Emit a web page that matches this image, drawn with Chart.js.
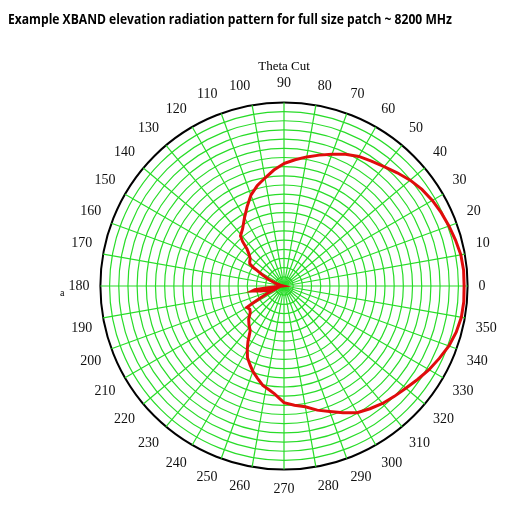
<!DOCTYPE html>
<html>
<head>
<meta charset="utf-8">
<script src="https://cdn.jsdelivr.net/npm/chart.js@4.4.1/dist/chart.umd.min.js"></script>
<style>
  html, body { margin: 0; padding: 0; background: #fff; }
  #wrap { width: 530px; height: 508px; }
</style>
</head>
<body>
<div id="wrap"><canvas id="polar" width="530" height="508"></canvas></div>
<script>
const pageTitle = 'Example XBAND elevation radiation pattern for full size patch ~ 8200 MHz';
const plotTitle = 'Theta Cut';
const axisLetter = 'a';

// angle in degrees (0 = right, counter-clockwise) and normalised gain
const thetaDeg = [
  0, 5, 10, 15, 20, 25, 30, 35, 40, 45, 50, 55, 60, 65, 70, 75, 80, 85,
  90, 95, 100, 105, 110, 115, 120, 126, 131, 133, 135, 138, 141, 145, 147, 149,
  150, 153, 157, 162, 168, 175,
  184, 186, 187, 189, 192, 196, 200, 204, 207, 209, 210, 214, 218, 223,
  228, 233, 237, 240, 243, 247, 250, 254, 258, 262, 265, 270, 275, 280,
  285, 290, 295, 300, 305, 310, 315, 320, 325, 330, 335, 340, 345, 350, 355
];
const gain = [
  0.981, 0.982, 0.978, 0.967, 0.956, 0.945, 0.933, 0.917, 0.897, 0.872, 0.848, 0.830, 0.815, 0.792, 0.763, 0.738, 0.714, 0.690,
  0.667, 0.634, 0.597, 0.565, 0.527, 0.476, 0.430, 0.384, 0.361, 0.330, 0.285, 0.255, 0.237, 0.228, 0.222, 0.195,
  0.170, 0.130, 0.090, 0.050, 0.020, 0.005,
  0.020, 0.090, 0.160, 0.176, 0.130, 0.080, 0.055, 0.100, 0.145, 0.200, 0.233, 0.225, 0.233, 0.263,
  0.285, 0.306, 0.360, 0.400, 0.438, 0.470, 0.495, 0.523, 0.554, 0.572, 0.590, 0.635, 0.652, 0.668,
  0.700, 0.727, 0.762, 0.797, 0.816, 0.835, 0.850, 0.866, 0.888, 0.912, 0.933, 0.956, 0.971, 0.981, 0.983
];

// radar runs clockwise from the top, so slot i holds angle 90 - i
const angleLabels = [];
for (let i = 0; i < 360; i++) {
    angleLabels.push((90 - i + 360) % 360);
}
const radarData = new Array(360).fill(null);
thetaDeg.forEach((t, k) => {
    radarData[(90 - t + 360) % 360] = gain[k];
});

const gridGreen = '#28dc28';

const headingPlugin = {
    id: 'heading',
    afterDraw(chart) {
        const ctx = chart.ctx;
        ctx.save();
        ctx.fillStyle = '#000';
        ctx.textBaseline = 'middle';
        ctx.font = 'bold 14px "Open Sans"';
        ctx.fillText(pageTitle, 8, 20, 444);
        ctx.font = '10px "Liberation Serif"';
        ctx.fillText(axisLetter, 60, 293);
        ctx.restore();
    }
};

new Chart(document.getElementById('polar'), {
    type: 'radar',
    data: {
        labels: angleLabels,
        datasets: [{
            label: 'Theta Cut',
            data: radarData,
            spanGaps: true,
            borderColor: '#e00c0c',
            borderWidth: 3,
            pointRadius: 0,
            pointHoverRadius: 0,
            fill: false,
            tension: 0
        }]
    },
    options: {
        responsive: false,
        animation: false,
        layout: {
            padding: { left: 38, right: 0, top: 0, bottom: 9 }
        },
        scales: {
            r: {
                min: 0,
                max: 1,
                startAngle: 0,
                ticks: { display: false, stepSize: 0.05, maxTicksLimit: 30 },
                grid: {
                    circular: true,
                    color: (c) => (c.tick && c.tick.value >= 1 ? '#000' : gridGreen),
                    lineWidth: (c) => (c.tick && c.tick.value >= 1 ? 2 : 1.2)
                },
                angleLines: {
                    color: (c) => (c.index % 10 === 0 ? gridGreen : 'rgba(0,0,0,0)'),
                    lineWidth: 1.2
                },
                pointLabels: {
                    color: '#111',
                    padding: 11,
                    font: { family: 'Liberation Serif', size: 14 },
                    callback: (label) => (label % 10 === 0 ? String(label) : '')
                }
            }
        },
        plugins: {
            legend: { display: false },
            tooltip: { enabled: false },
            title: {
                display: true,
                text: plotTitle,
                color: '#000',
                font: { family: 'Liberation Serif', size: 13, weight: 'normal' },
                padding: { top: 59, bottom: 0 }
            }
        }
    },
    plugins: [headingPlugin]
});
</script>
</body>
</html>
